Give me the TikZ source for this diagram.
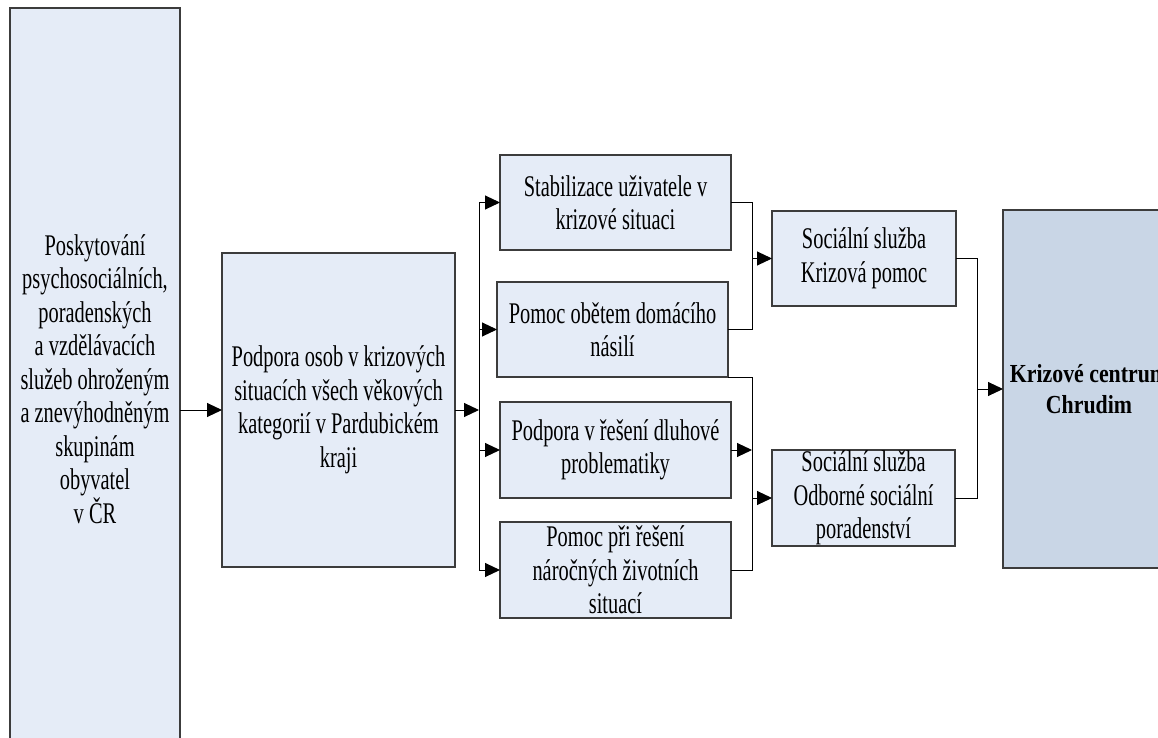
\documentclass[tikz,border=0pt]{standalone}
\usepackage{fontspec}
\setmainfont{Liberation Serif}[FakeStretch=0.68]
\newfontfamily\kcfont{Liberation Serif}[FakeStretch=0.84]
\usetikzlibrary{arrows.meta}
\definecolor{boxfill}{RGB}{229,236,247}
\definecolor{kcfill}{RGB}{201,214,230}
\definecolor{boxline}{RGB}{60,60,60}
\tikzset{
  box/.style={draw=boxline, line width=1.2pt, fill=boxfill, inner sep=0pt, outer sep=0pt,
    align=center, font=\fontsize{30}{33.5}\selectfont},
  kcbox/.style={box, fill=kcfill, font=\kcfont\bfseries\fontsize{26}{31}\selectfont},
  conn/.style={draw=black, line width=1pt},
  arr/.style={conn, -{Triangle[length=15pt,width=14pt]}},
}
\begin{document}
\begin{tikzpicture}[x=1pt,y=-1pt]
\useasboundingbox (0,0) rectangle (1158,738);
\node[box, minimum width=170pt, minimum height=742pt] (L) at (95,379)
  {Poskytování\\psychosociálních,\\poradenských\\a vzdělávacích\\služeb ohroženým\\a znevýhodněným\\skupinám\\obyvatel\\v ČR};
\node[box, minimum width=233pt, minimum height=314pt] (P) at (338.5,410)
  {Podpora osob v krizových\\situacích všech věkových\\kategorií v Pardubickém\\kraji};
\node[box, minimum width=231pt, minimum height=95pt] (A) at (615.5,202.5)
  {Stabilizace uživatele v\\krizové situaci};
\node[box, minimum width=231pt, minimum height=95pt] (B) at (612.5,329.5)
  {Pomoc obětem domácího\\násilí};
\node[box, minimum width=231pt, minimum height=96pt] (C) at (615.5,450)
  {Podpora v řešení dluhové\\problematiky};
\node[box, minimum width=231pt, minimum height=96pt] (D) at (615.5,570)
  {Pomoc při řešení\\náročných životních\\situací};
\node[box, minimum width=184pt, minimum height=95pt] (S1) at (864,258.5)
  {Sociální služba\\Krizová pomoc};
\node[box, minimum width=183pt, minimum height=96pt] (S2) at (863.5,498)
  {Sociální služba\\Odborné sociální\\poradenství};
\node[kcbox, minimum width=172pt, minimum height=358pt] (KC) at (1089,389)
  {Krizové centrum\\Chrudim};
\coordinate (b1) at (479,0);
\coordinate (b2) at (752,0);
\coordinate (b4) at (977,0);
% left box to P
\draw[arr] (L.east |- P.west) -- (P.west);
% P to bus 1
\draw[arr] (P.east) -- (b1 |- P.east);
\draw[conn] (b1 |- A.west) -- (b1 |- D.west);
\draw[arr] (b1 |- A.west) -- (A.west);
\draw[arr] (b1 |- B.west) -- (B.west);
\draw[arr] (b1 |- C.west) -- (C.west);
\draw[arr] (b1 |- D.west) -- (D.west);
% upper bus 2
\draw[conn] (A.east) -- (b2 |- A.east) -- (b2 |- B.east) -- (B.east);
\draw[arr] (b2 |- S1.west) -- (S1.west);
% lower bus 2
\draw[conn] (B.south east) -- (b2 |- B.south east) -- (b2 |- D.east) -- (D.east);
\draw[arr] (C.east) -- (b2 |- C.east);
\draw[arr] (b2 |- S2.west) -- (S2.west);
% bus 4
\draw[conn] (S1.east) -- (b4 |- S1.east) -- (b4 |- S2.east) -- (S2.east);
\draw[arr] (b4 |- KC.west) -- (KC.west);
\end{tikzpicture}
\end{document}
